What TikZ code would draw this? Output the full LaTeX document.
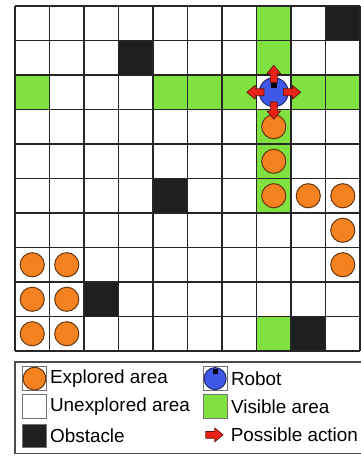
\documentclass[tikz,border=0pt]{standalone}
\usepackage{fontspec}
\setmainfont{Liberation Sans}
\usetikzlibrary{positioning}

\definecolor{seen}{RGB}{128,226,64}
\definecolor{done}{RGB}{245,130,32}
\definecolor{bot}{RGB}{64,88,232}
\definecolor{move}{RGB}{232,36,24}

\tikzset{
  act/.pic={\draw[move!45!black, fill=move, line width=0.6pt, line join=round]
    (0,-0.1) -- (0.26,-0.1) -- (0.26,-0.2) -- (0.5,0) -- (0.26,0.2) -- (0.26,0.1) -- (0,0.1) -- cycle;}
}

\begin{document}
\begin{tikzpicture}[
  font=\fontsize{15.6}{18}\selectfont,
  visible/.style={fill=seen},
  wall/.style={fill=black!88},
  explored/.style={circle, draw=done!40!black, fill=done, line width=0.8pt, minimum size=0.7cm, inner sep=0},
  key/.style={draw=black!55, line width=0.8pt, minimum size=0.69cm, inner sep=0},
  lbl/.style={inner sep=1pt}]
  \useasboundingbox (-0.435,0.174) rectangle (10,-13.072);
  % grid world
  \foreach \c/\r in {7/0,7/1,0/2,4/2,5/2,6/2,8/2,9/2,7/3,7/4,7/5,7/9}
    \fill[visible] (\c,-\r) rectangle ++(1,-1);
  \foreach \c/\r in {9/0,3/1,4/5,2/8,8/9}
    \fill[wall] (\c,-\r) rectangle ++(1,-1);
  \draw[black!85, line width=1pt] (0,-10) grid (10,0);
  \foreach \c/\r in {7/3,7/4,7/5,8/5,9/5,9/6,0/7,1/7,9/7,0/8,1/8,0/9,1/9}
    \node[explored] (e\c-\r) at (\c+0.5,-\r-0.5) {};
  % robot and its moves
  \node[circle, draw=bot!45!black, fill=bot, line width=0.8pt, minimum size=0.84cm, inner sep=0] (robot) at (7.5,-2.5) {};
  \node[fill=black, minimum width=0.18cm, minimum height=0.2cm, inner sep=0, below=0.1cm of robot.north] (eye) {};
  \foreach \a in {0,90,180,270}
    \pic[rotate=\a, xshift=0.28cm] at (robot) {act};
  % legend
  \draw[black!70, line width=1pt] (0,-10.32) rectangle (10.05,-12.96);
  \node[key] (kexp) at (0.565,-10.8) {};
  \node[explored, minimum size=0.66cm] at (kexp) {};
  \node[lbl, right=0.05 of kexp] (texp) {Explored area};
  \node[key, fill=white] (kfree) at (0.565,-11.61) {};
  \node[lbl, right=0.05 of kfree] (tfree) {Unexplored area};
  \node[key, wall] (kwall) at (0.565,-12.46) {};
  \node[lbl, right=0.05 of kwall] (twall) {Obstacle};
  \node[key] (kbot) at (5.8,-10.8) {};
  \node[circle, draw=bot!45!black, fill=bot, line width=0.8pt, minimum size=0.64cm, inner sep=0] (rbot) at (kbot) {};
  \node[fill=black, minimum width=0.14cm, minimum height=0.16cm, inner sep=0, below=0.04cm of rbot.north] (reye) {};
  \node[lbl, right=0.06 of kbot] (tbot) {Robot};
  \node[key, visible] (kvis) at (5.8,-11.61) {};
  \node[lbl, right=0.06 of kvis] (tvis) {Visible area};
  \node[minimum size=0.69cm, inner sep=0] (kact) at (5.8,-12.43) {};
  \pic[xshift=-0.27cm] at (kact) {act};
  \node[lbl, right=0.06 of kact] (tact) {Possible action};
\end{tikzpicture}
\end{document}
